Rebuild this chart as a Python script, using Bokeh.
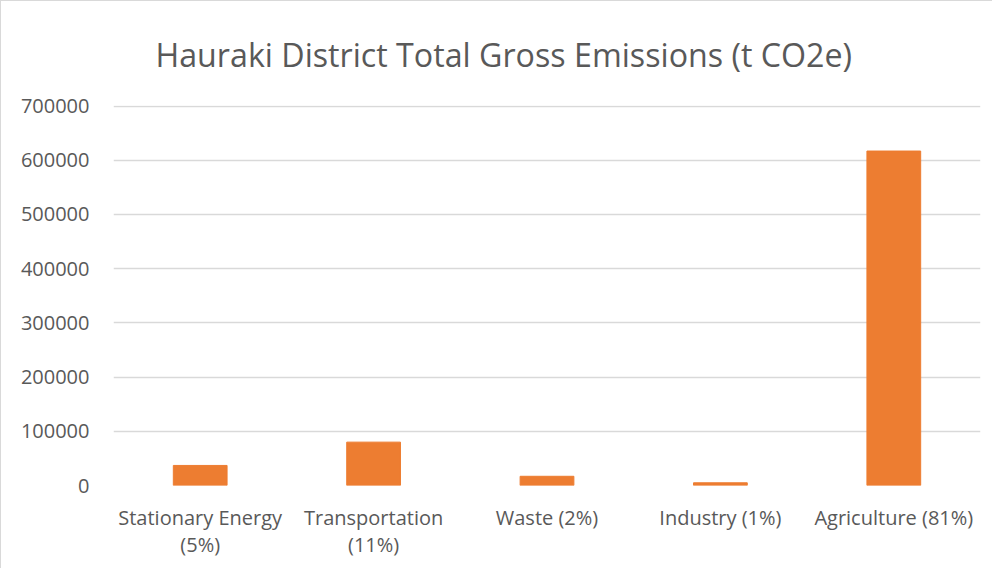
from bokeh.plotting import figure
from bokeh.models import FactorRange, Range1d, FixedTicker, NumeralTickFormatter, Title
from bokeh.embed import file_html
from bokeh.resources import INLINE

categories = ["Stationary Energy\n(5%)", "Transportation\n(11%)", "Waste (2%)", "Industry (1%)", "Agriculture (81%)"]
emissions = [37000, 80000, 17000, 5000, 617000]
y_ticks = [0, 100000, 200000, 300000, 400000, 500000, 600000, 700000]

FONT = "Open Sans"
TEXT = "#595959"
GRID = "#d9d9d9"

p = figure(x_range=FactorRange(*categories, range_padding=0), y_range=Range1d(0, 701000),
           width=992, height=568, output_backend="svg", toolbar_location=None,
           min_border_left=112, min_border_right=13, min_border_top=104, min_border_bottom=84)
p.outline_line_color = None
p.background_fill_color = "white"
p.border_fill_color = "white"

p.vbar(x=categories, top=emissions, width=0.31, color="#ed7d31")

t = Title(text="Hauraki District Total Gross Emissions (t CO2e)", align="left",
          text_font=FONT, text_font_size="32.2px", text_font_style="normal",
          text_color=TEXT, standoff=59, offset=42)
p.add_layout(t, "above")

p.yaxis.ticker = FixedTicker(ticks=y_ticks)
p.yaxis.formatter = NumeralTickFormatter(format="0")
p.yaxis.axis_line_color = None
p.yaxis.major_tick_line_color = None
p.yaxis.minor_tick_line_color = None
p.yaxis.major_label_standoff = 18
p.yaxis.major_label_text_font = FONT
p.yaxis.major_label_text_font_size = "20px"
p.yaxis.major_label_text_color = TEXT

p.xaxis.axis_line_color = None
p.xaxis.major_tick_line_color = None
p.xaxis.minor_tick_line_color = None
p.xaxis.major_label_standoff = 12
p.xaxis.major_label_text_font = FONT
p.xaxis.major_label_text_font_size = "20px"
p.xaxis.major_label_text_color = TEXT
p.xaxis.major_label_text_line_height = 1.0

p.xgrid.grid_line_color = None
p.ygrid.grid_line_color = GRID
p.ygrid.grid_line_width = 1.5
p.ygrid.ticker = FixedTicker(ticks=y_ticks)

p.styles = {"border-left": "1px solid #d9d9d9", "border-top": "1px solid #d9d9d9"}

open("out.html", "w").write(file_html(p, INLINE))
